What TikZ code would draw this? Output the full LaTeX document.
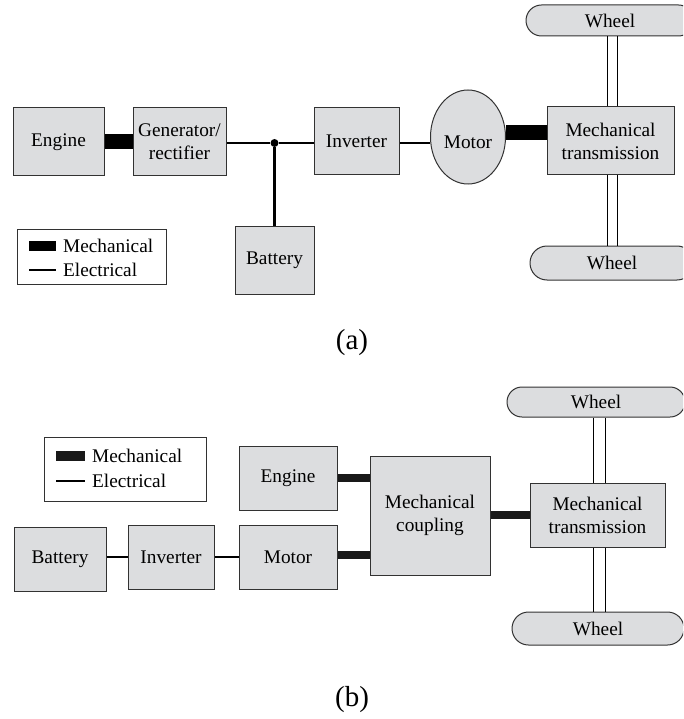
\documentclass[tikz,border=0pt]{standalone}
\usepackage{fontspec}
\setmainfont{Liberation Serif}
\usetikzlibrary{shapes.geometric,shapes.misc,backgrounds}
\definecolor{boxfill}{RGB}{220,221,223}
\definecolor{boxline}{RGB}{50,50,50}
\definecolor{mechb}{RGB}{25,25,25}
\tikzset{
  blk/.style={draw=boxline,line width=1pt,fill=boxfill,align=center,inner sep=0pt,
    font=\fontsize{19.3}{23}\selectfont},
  wheelbox/.style={blk,rounded rectangle},
  mecha/.style={line width=15pt,black},
  eleca/.style={line width=2.8pt,black},
  mechbl/.style={line width=8pt,mechb},
  elecb/.style={line width=1.1pt,black},
  shaft/.style={line width=1pt,black},
  legtext/.style={anchor=west,inner sep=0pt,font=\fontsize{19.3}{23}\selectfont},
  captxt/.style={font=\fontsize{29}{33}\selectfont,inner sep=0pt}
}
\begin{document}
\begin{tikzpicture}[x=1pt,y=-1pt]
\useasboundingbox (0,0) rectangle (683,719);
\clip (0,0) rectangle (683,719);
% ---------- (a) ----------
\node[blk,minimum width=91pt,minimum height=68pt] (ea) at (58.5,142) {Engine};
\node[blk,minimum width=93pt,minimum height=68pt] (ga) at (179.5,142) {Generator/\\rectifier};
\node[blk,minimum width=85pt,minimum height=67pt] (ia) at (356.5,141.5) {Inverter};
\node[blk,minimum width=79pt,minimum height=68pt] (ba) at (274.5,260) {Battery};
\node[blk,ellipse,minimum width=75pt,minimum height=94pt] (ma) at (468,137) {};
\node[inner sep=0pt,font=\fontsize{19.3}{23}\selectfont] (mat) at (468,142) {Motor};
\node[blk,minimum width=127pt,minimum height=68pt] (ta) at (610.5,141) {Mechanical\\transmission};
\node[wheelbox,minimum width=168pt,minimum height=31pt] (wta) at (610,20.5) {Wheel};
\node[wheelbox,minimum width=164pt,minimum height=34pt] (wba) at (612,263) {Wheel};
\node[circle,fill=black,inner sep=0pt,minimum size=8pt] (ja) at (274.5,143) {};
\begin{scope}[on background layer]
\draw[mecha] (ea.east) -- (ga.west);
\draw[eleca] (ga.east |- ja) -- (ja) -- (ia.west |- ja);
\draw[eleca] (ja) -- (ba.north);
\draw[eleca] (ia.east |- ja) -- (ja -| ma.west);
\draw[mecha] ([yshift=4pt]ma.east) -- ([yshift=4pt]ma.east -| ta.west);
\end{scope}
\draw[shaft] ([xshift=-3.5pt]ta.north |- wta.south) -- ([xshift=-3.5pt]ta.north);
\draw[shaft] ([xshift=6.5pt]ta.north |- wta.south) -- ([xshift=6.5pt]ta.north);
\draw[shaft] ([xshift=-3.5pt]ta.south) -- ([xshift=-3.5pt]ta.south |- wba.north);
\draw[shaft] ([xshift=6.5pt]ta.south) -- ([xshift=6.5pt]ta.south |- wba.north);
% legend a
\node[draw=boxline,line width=1pt,minimum width=149pt,minimum height=55pt,inner sep=0pt] (la) at (91.5,256.5) {};
\coordinate (la1) at (29,246);
\coordinate (la2) at (56,246);
\coordinate (la3) at (29,270);
\coordinate (la4) at (56,270);
\draw[line width=10pt,black] (la1) -- (la2);
\draw[eleca] (la3) -- (la4);
\node[legtext] (lma) at (63,246) {Mechanical};
\node[legtext] (lea) at (63,270) {Electrical};
\node[captxt] (capa) at (352,343) {(a)};
% ---------- (b) ----------
\node[blk,minimum width=98pt,minimum height=64pt] (eb) at (288,478) {Engine};
\node[blk,minimum width=98pt,minimum height=64pt] (mb) at (288,557) {Motor};
\node[blk,minimum width=92pt,minimum height=64pt] (bb) at (60,559) {Battery};
\node[blk,minimum width=86pt,minimum height=64pt] (ib) at (171,557) {Inverter};
\node[blk,minimum width=120pt,minimum height=119pt] (cb) at (430,515.5) {Mechanical\\coupling};
\node[blk,minimum width=135pt,minimum height=64pt] (tb) at (597.5,515) {Mechanical\\transmission};
\node[wheelbox,minimum width=178pt,minimum height=30pt] (wtb) at (596,402) {Wheel};
\node[wheelbox,minimum width=172pt,minimum height=33pt] (wbb) at (598,628.5) {Wheel};
\begin{scope}[on background layer]
\draw[elecb] (bb.east |- ib) -- (ib.west);
\draw[elecb] (ib.east) -- (mb.west);
\draw[mechbl] (eb.east) -- (eb.east -| cb.west);
\draw[mechbl] ([yshift=2pt]mb.east) -- ([yshift=2pt]mb.east -| cb.west);
\draw[mechbl] (cb.east |- tb) -- (tb.west);
\end{scope}
\draw[shaft] ([xshift=-4.5pt]tb.north |- wtb.south) -- ([xshift=-4.5pt]tb.north);
\draw[shaft] ([xshift=7.5pt]tb.north |- wtb.south) -- ([xshift=7.5pt]tb.north);
\draw[shaft] ([xshift=-4.5pt]tb.south) -- ([xshift=-4.5pt]tb.south |- wbb.north);
\draw[shaft] ([xshift=7.5pt]tb.south) -- ([xshift=7.5pt]tb.south |- wbb.north);
% legend b
\node[draw=boxline,line width=1pt,minimum width=162pt,minimum height=64pt,inner sep=0pt] (lb) at (125,469) {};
\coordinate (lb1) at (56,456);
\coordinate (lb2) at (85,456);
\coordinate (lb3) at (56,481);
\coordinate (lb4) at (85,481);
\draw[line width=10pt,mechb] (lb1) -- (lb2);
\draw[elecb] (lb3) -- (lb4);
\node[legtext] (lmb) at (92,456) {Mechanical};
\node[legtext] (leb) at (92,481) {Electrical};
\node[captxt] (capb) at (352,700) {(b)};
\end{tikzpicture}
\end{document}
